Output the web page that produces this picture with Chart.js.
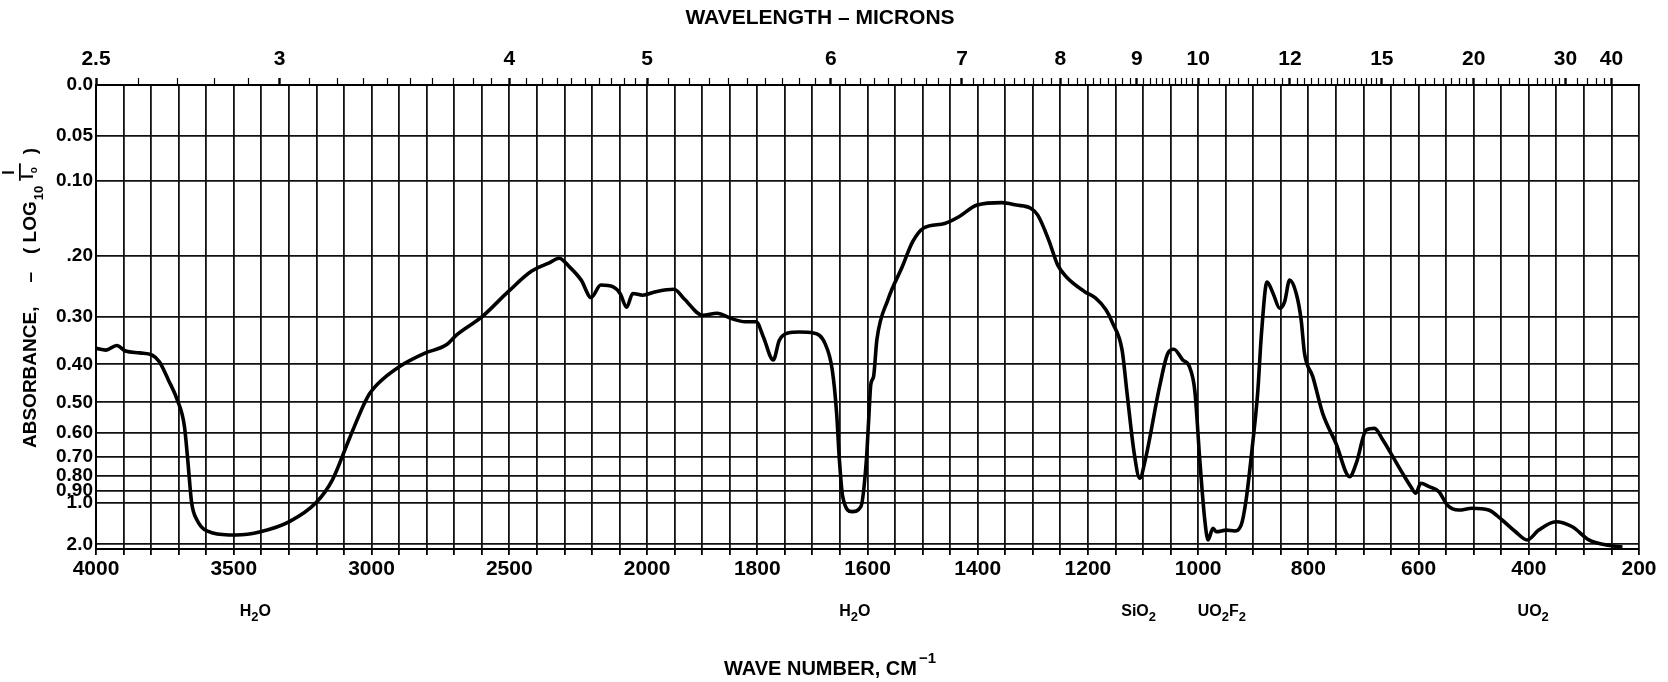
<!DOCTYPE html>
<html>
<head>
<meta charset="utf-8">
<title>Absorbance spectrum</title>
<script src="https://cdn.jsdelivr.net/npm/chart.js@4.4.1/dist/chart.umd.min.js"></script>
<style>
    html, body { margin: 0; padding: 0; background: #fff; }
    #wrap { width: 1668px; height: 682px; }
</style>
</head>
<body>
<div id="wrap"><canvas id="spectrum" width="1668" height="682"></canvas></div>
<script>
// ===================================
// SPECTRUM DATA
// ===================================

// wave number, cm-1 (left to right)
const waveNumbers = [
    4000, 3964, 3925, 3893, 3841, 3796, 3770, 3737, 3705, 3679,
    3667, 3653, 3634, 3576, 3492, 3403, 3298, 3201, 3143, 3078,
    3014, 2975, 2898, 2808, 2730, 2691, 2600, 2504, 2420, 2355,
    2319, 2284, 2239, 2203, 2168, 2123, 2098, 2074, 2052, 2016,
    1984, 1951, 1932, 1899, 1873, 1847, 1822, 1802, 1789, 1771,
    1760, 1744, 1724, 1698, 1677, 1664, 1656, 1651, 1645, 1628,
    1612, 1602, 1598, 1594, 1589, 1583, 1563, 1537, 1518, 1498,
    1460, 1434, 1401, 1356, 1330, 1304, 1291, 1271, 1255, 1239,
    1206, 1187, 1167, 1155, 1138, 1129, 1116, 1106, 1096, 1070,
    1055, 1044, 1028, 1016, 1006, 997, 988, 982, 973, 967,
    949, 934, 922, 913, 901, 892, 885, 875, 864, 852,
    843, 834, 822, 813, 807, 792, 774, 750, 725, 713,
    695, 680, 665, 647, 629, 614, 605, 596, 581, 563,
    548, 527, 503, 473, 449, 424, 403, 382, 351, 321,
    291, 261, 230
];

// absorbance, -log10(I/Io)
const absorbance = [
    0.364, 0.368, 0.358, 0.370, 0.374, 0.379, 0.394, 0.439, 0.493, 0.578,
    0.717, 1.00, 1.20, 1.46, 1.52, 1.43, 1.23, 1.00, 0.83, 0.617,
    0.484, 0.447, 0.405, 0.375, 0.357, 0.336, 0.301, 0.256, 0.223, 0.210,
    0.203, 0.215, 0.237, 0.266, 0.245, 0.248, 0.259, 0.283, 0.259, 0.262,
    0.256, 0.252, 0.269, 0.298, 0.294, 0.304, 0.310, 0.310, 0.340, 0.390,
    0.347, 0.332, 0.330, 0.332, 0.354, 0.413, 0.534, 0.717, 0.948, 1.094,
    1.04, 0.717, 0.560, 0.450, 0.430, 0.346, 0.270, 0.216, 0.179, 0.160,
    0.154, 0.145, 0.130, 0.127, 0.130, 0.134, 0.143, 0.177, 0.213, 0.232,
    0.256, 0.266, 0.288, 0.313, 0.368, 0.474, 0.686, 0.817, 0.717, 0.456,
    0.375, 0.366, 0.390, 0.405, 0.468, 0.717, 1.20, 1.71, 1.35, 1.43,
    1.39, 1.41, 1.29, 0.976, 0.642, 0.474, 0.332, 0.240, 0.259, 0.285,
    0.273, 0.237, 0.259, 0.307, 0.375, 0.430, 0.534, 0.642, 0.807, 0.733,
    0.591, 0.585, 0.628, 0.700, 0.788, 0.872, 0.920, 0.849, 0.872, 0.908,
    1.023, 1.076, 1.057, 1.076, 1.20, 1.43, 1.71, 1.39, 1.23, 1.32,
    1.71, 2.05, 2.40
];

// axis labels
const waveTicks = [4000, 3500, 3000, 2500, 2000, 1800, 1600, 1400, 1200, 1000, 800, 600, 400, 200];
const micronTicks = [2.5, 3, 4, 5, 6, 7, 8, 9, 10, 12, 15, 20, 30, 40];
const absTicks = [0, 0.05, 0.1, 0.2, 0.3, 0.4, 0.5, 0.6, 0.7, 0.8, 0.9, 1.0, 2.0];
const absLabels = ['0.0', '0.05', '0.10', '.20', '0.30', '0.40', '0.50', '0.60', '0.70', '0.80', '0.90', '1.0', '2.0'];

// band assignments under the axis
const bandLabels = ['H₂O', 'H₂O', 'SiO₂', 'UO₂F₂', 'UO₂'];
const bandWaves = [3422, 1623, 1108, 957, 392];

const FONT = '"Liberation Sans", Arial, Helvetica, sans-serif';
const SUBS = '₀₁₂₃₄₅₆₇₈₉';

/**
 * Chart paper is split at 2000 cm-1: 4000-2000 at half scale, 2000-200 at full scale
 */
function toU(w) {
    return w >= 2000 ? (4000 - w) / 2 : 1000 + (2000 - w);
}

function toWave(u) {
    return u <= 1000 ? 4000 - 2 * u : 2000 - (u - 1000);
}

// grid every 100 cm-1 (left part) / 50 cm-1 (right part)
const gridTicks = [];
for (let u = 0; u <= 2800; u += 50) gridTicks.push({ value: u });

// small ticks along the wavelength edge
const micronMarks = [];
for (let m = 25; m < 100; m++) micronMarks.push(m / 10);
for (let m = 50; m < 75; m++) micronMarks.push(m / 5);
for (let m = 30; m < 40; m++) micronMarks.push(m / 2);
for (let m = 20; m < 30; m++) micronMarks.push(m);
for (let m = 15; m <= 20; m++) micronMarks.push(m * 2);
const topTicks = micronMarks.map(m => ({
    value: toU(10000 / m),
    major: micronTicks.includes(m),
    micron: m
}));

const points = waveNumbers.map((w, i) => ({ x: toU(w), y: Math.pow(10, -absorbance[i]) }));

/**
 * Draws a formula like H₂O with real lowered digits, centred on x
 */
function drawFormula(ctx, text, x, y, size) {
    const parts = [...text].map(ch => {
        const k = SUBS.indexOf(ch);
        return k >= 0 ? { t: String(k), sub: true } : { t: ch, sub: false };
    });
    const subSize = Math.round(size * 0.82);
    let total = 0;
    parts.forEach(p => {
        ctx.font = 'bold ' + (p.sub ? subSize : size) + 'px ' + FONT;
        p.w = ctx.measureText(p.t).width;
        total += p.w;
    });
    let cx = x - total / 2;
    ctx.textAlign = 'left';
    parts.forEach(p => {
        ctx.font = 'bold ' + (p.sub ? subSize : size) + 'px ' + FONT;
        ctx.fillText(p.t, cx, p.sub ? y + 5 : y);
        cx += p.w;
    });
}

/**
 * Titles, band names and the y axis label
 */
const textPlugin = {
    id: 'spectrumText',
    afterDraw(chart) {
        const ctx = chart.ctx;
        const xs = chart.scales.x;
        ctx.save();
        ctx.fillStyle = '#000';
        ctx.textBaseline = 'middle';

        // top title
        ctx.textAlign = 'center';
        ctx.font = 'bold 21px ' + FONT;
        ctx.fillText('WAVELENGTH – MICRONS', 820, 18);

        // bottom title with superscript
        ctx.font = 'bold 20px ' + FONT;
        const main = 'WAVE NUMBER, CM';
        const mw = ctx.measureText(main).width;
        ctx.font = 'bold 15px ' + FONT;
        const sw = ctx.measureText('−1').width;
        const x0 = 830 - (mw + sw + 2) / 2;
        ctx.textAlign = 'left';
        ctx.font = 'bold 20px ' + FONT;
        ctx.fillText(main, x0, 669);
        ctx.font = 'bold 15px ' + FONT;
        ctx.fillText('−1', x0 + mw + 2, 659);

        // band names
        bandLabels.forEach((t, i) => {
            drawFormula(ctx, t, xs.getPixelForValue(toU(bandWaves[i])), 612, 16);
        });

        // y axis title, rotated
        ctx.translate(31, 448);
        ctx.rotate(-Math.PI / 2);
        ctx.textAlign = 'left';
        ctx.font = 'bold 19px ' + FONT;
        let p = 0;
        ctx.fillText('ABSORBANCE,', p, 0);
        p += ctx.measureText('ABSORBANCE,').width + 24;
        ctx.fillText('–', p, 0);
        p += ctx.measureText('–').width + 18;
        ctx.fillText('( LOG', p, 0);
        p += ctx.measureText('( LOG').width + 1;
        ctx.font = 'bold 13px ' + FONT;
        ctx.fillText('10', p, 8);
        p += ctx.measureText('10').width + 7;
        ctx.font = 'bold 16px ' + FONT;
        const iw = ctx.measureText('I').width;
        ctx.fillText('I', p + 4, -21);
        ctx.fillText('I', p, -2);
        ctx.font = 'bold 10px ' + FONT;
        ctx.fillText('o', p + iw + 1, 3);
        ctx.fillRect(p - 2, -12, iw + 13, 1.8);
        p += iw + 20;
        ctx.font = 'bold 19px ' + FONT;
        ctx.fillText(')', p, 0);

        ctx.restore();
    }
};

const tickFont = { family: FONT, size: 21, weight: 'bold' };

new Chart(document.getElementById('spectrum'), {
    type: 'line',
    data: {
        datasets: [{
            data: points,
            borderColor: '#000',
            borderWidth: 3.6,
            pointRadius: 0,
            fill: false,
            cubicInterpolationMode: 'monotone'
        }]
    },
    options: {
        responsive: false,
        animation: false,
        events: [],
        layout: { padding: { left: 0, right: 29, top: 0, bottom: 0 } },
        plugins: {
            legend: { display: false },
            tooltip: { enabled: false },
            title: { display: false }
        },
        scales: {
            x: {
                type: 'linear',
                position: 'bottom',
                min: 0,
                max: 2800,
                afterBuildTicks: s => { s.ticks = gridTicks.map(t => ({ value: t.value })); },
                afterFit: s => { s.height = 133; },
                ticks: {
                    autoSkip: false,
                    maxRotation: 0,
                    minRotation: 0,
                    padding: 2,
                    color: '#000',
                    font: tickFont,
                    callback: (v) => {
                        const w = toWave(v);
                        return waveTicks.includes(w) ? String(w) : '';
                    }
                },
                grid: { color: '#111', lineWidth: 1.8, tickLength: 6, tickColor: '#000' },
                border: { color: '#000', width: 2 }
            },
            x2: {
                type: 'linear',
                position: 'top',
                min: 0,
                max: 2800,
                afterBuildTicks: s => { s.ticks = topTicks.map(t => ({ ...t })); },
                afterFit: s => { s.height = 85; },
                ticks: {
                    autoSkip: false,
                    maxRotation: 0,
                    minRotation: 0,
                    padding: 6,
                    color: '#000',
                    font: tickFont,
                    callback: (v, i, ticks) => ticks[i].major ? String(ticks[i].micron) : ''
                },
                grid: {
                    drawOnChartArea: false,
                    tickLength: 7,
                    tickColor: '#000',
                    tickWidth: c => (c.tick && c.tick.major ? 2.4 : 1.2)
                },
                border: { color: '#000', width: 2 }
            },
            y: {
                type: 'linear',
                min: 0,
                max: 1,
                afterBuildTicks: s => { s.ticks = absTicks.map(a => ({ value: Math.pow(10, -a) })); },
                afterFit: s => { s.width = 96; },
                ticks: {
                    autoSkip: false,
                    padding: 3,
                    color: '#000',
                    font: { family: FONT, size: 19, weight: 'bold' },
                    callback: (v, i) => absLabels[i]
                },
                grid: { color: '#111', lineWidth: 1.8, drawTicks: false },
                border: { color: '#000', width: 2 }
            }
        }
    },
    plugins: [textPlugin]
});
</script>
</body>
</html>
